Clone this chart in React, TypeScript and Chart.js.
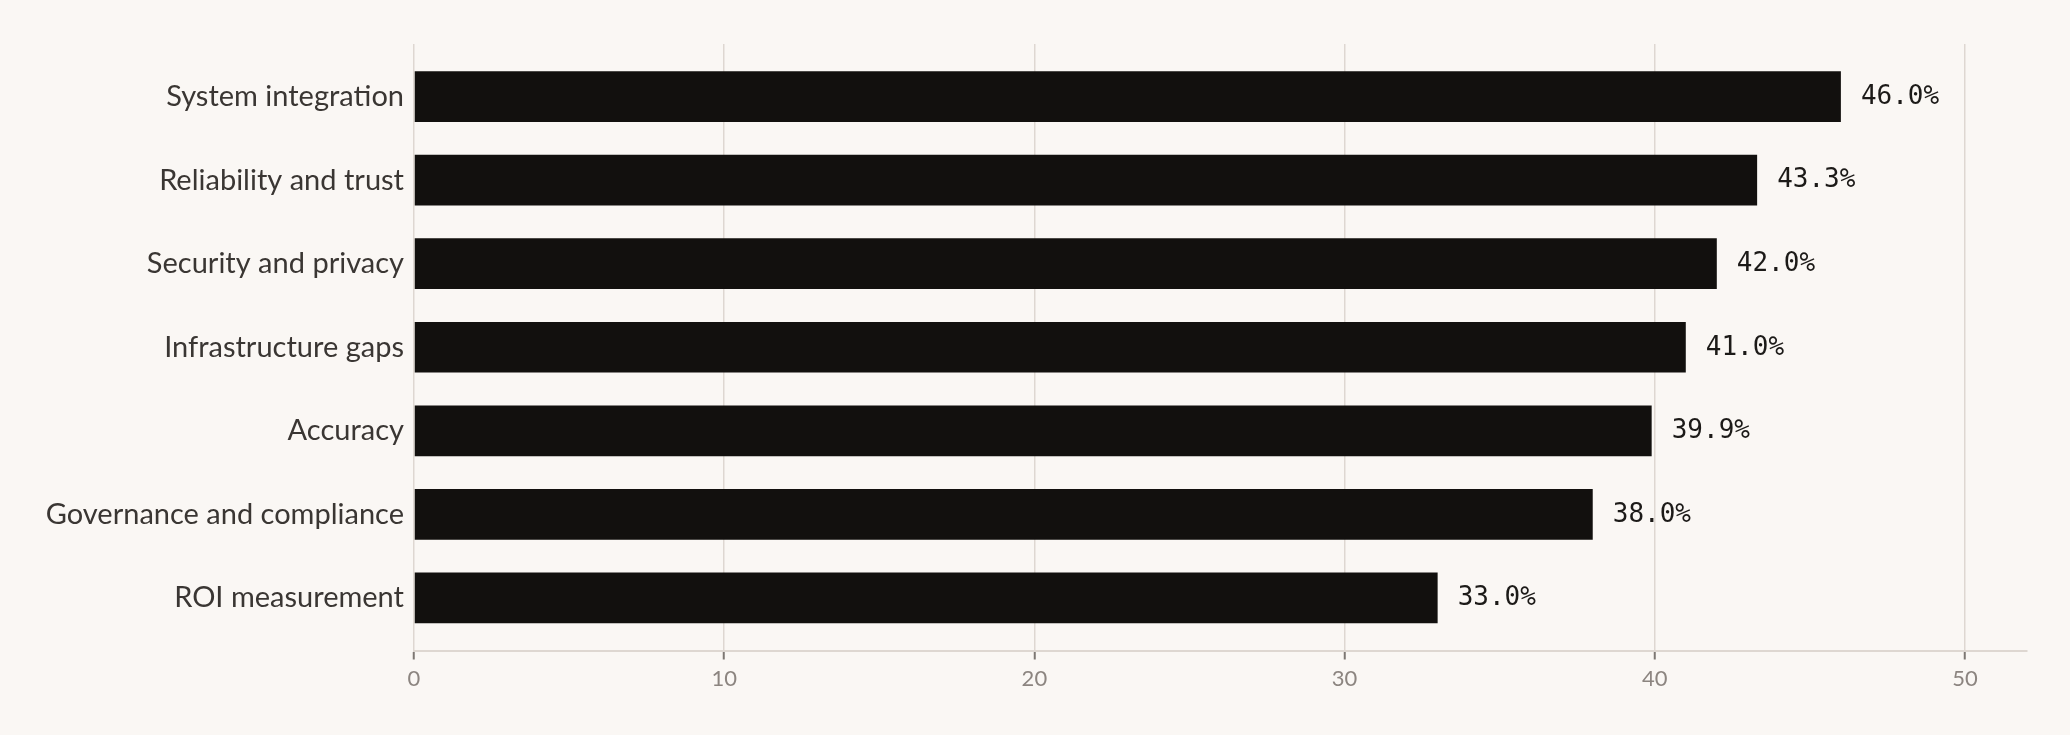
import React, { useEffect, useRef } from "react";
import { Chart, registerables } from "chart.js";

Chart.register(...registerables);

const categories = [
  "System integration",
  "Reliability and trust",
  "Security and privacy",
  "Infrastructure gaps",
  "Accuracy",
  "Governance and compliance",
  "ROI measurement",
];
const values = [46.0, 43.3, 42.0, 41.0, 39.9, 38.0, 33.0];
const xTicks = [0, 10, 20, 30, 40, 50];

const BG = "#faf7f4";
const BAR = "#12100e";
const GRID = "#ded7d1";

const valueLabels = {
  id: "valueLabels",
  afterDatasetsDraw(chart: any) {
    const ctx = chart.ctx;
    const meta = chart.getDatasetMeta(0);
    ctx.save();
    ctx.font = "26px 'DejaVu Sans Mono', monospace";
    ctx.fillStyle = "#1c1a18";
    ctx.textAlign = "left";
    ctx.textBaseline = "middle";
    meta.data.forEach((el: any, i: number) => {
      ctx.fillText(values[i].toFixed(1) + "%", el.x + 20, el.y + 0.5);
    });
    ctx.restore();
  },
};

export default function App() {
  const ref = useRef<HTMLCanvasElement | null>(null);
  useEffect(() => {
    if (!ref.current) return;
    const chart = new Chart(ref.current, {
      type: "bar",
      data: {
        datasets: [
          {
            data: values.map((v, i) => ({ x: v, y: i })),
            backgroundColor: BAR,
            borderWidth: 0,
            categoryPercentage: 1,
            barPercentage: 0.607,
          },
        ],
      },
      options: {
        indexAxis: "y",
        animation: false,
        responsive: true,
        maintainAspectRatio: false,
        layout: { padding: { top: 44, right: 43, left: 0, bottom: 0 } },
        plugins: { legend: { display: false }, tooltip: { enabled: false } },
        scales: {
          x: {
            type: "linear",
            min: 0,
            max: 52,
            afterBuildTicks: (scale: any) => {
              scale.ticks = xTicks.map((v) => ({ value: v }));
            },
            grid: {
              color: GRID,
              lineWidth: 1.5,
              tickColor: "#7d7773",
              tickWidth: 2,
              tickLength: 9,
            },
            border: { color: GRID, width: 2 },
            ticks: {
              color: "#8c8580",
              font: { family: "Lato", size: 22 },
              padding: 6,
              includeBounds: false,
            },
            afterFit: (scale: any) => {
              scale.height = 84.5;
            },
          },
          y: {
            type: "linear",
            reverse: true,
            offset: false,
            min: -0.63,
            max: 6.63,
            afterBuildTicks: (scale: any) => {
              scale.ticks = categories.map((_, i) => ({ value: i }));
            },
            grid: { display: false, drawTicks: false, offset: false },
            border: { display: false },
            ticks: {
              autoSkip: false,
              color: "#3a3633",
              font: { family: "Lato", size: 29 },
              padding: 10,
              callback: (v: any) => categories[v] ?? "",
            },
            afterFit: (scale: any) => {
              scale.width = 414;
            },
          },
        },
      },
      plugins: [valueLabels],
    });
    return () => chart.destroy();
  }, []);
  return (
    <div style={{ position: "fixed", left: 0, top: 0, width: 2070, height: 735, background: BG }}>
      <canvas ref={ref} />
    </div>
  );
}
